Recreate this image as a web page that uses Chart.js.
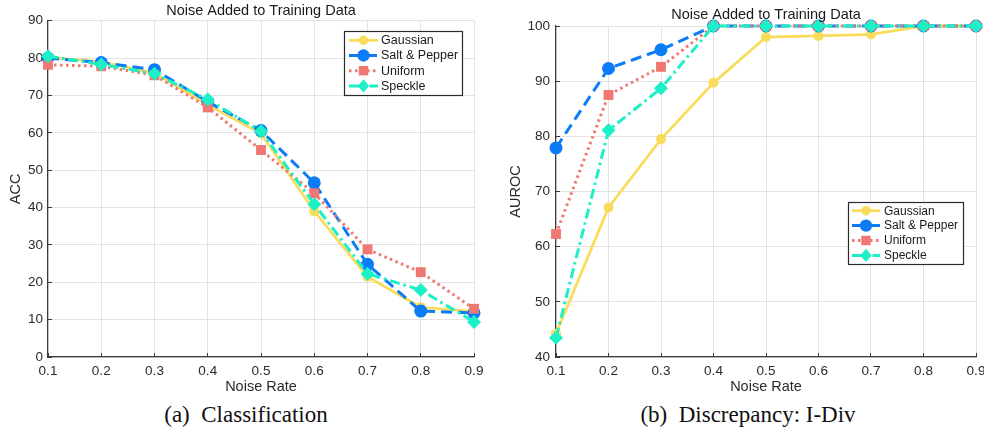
<!DOCTYPE html>
<html>
<head>
<meta charset="utf-8">
<title>Noise Added to Training Data</title>
<script src="https://cdn.jsdelivr.net/npm/chart.js@4.4.1/dist/chart.umd.min.js"></script>
<style>
  body { margin: 0; background: #fff; }
  #wrap { position: relative; width: 984px; height: 431px; overflow: hidden; }
  .panel { position: absolute; top: 0; height: 400px; }
  .cap { position: absolute; top: 402px; font-family: "Liberation Serif", "Times New Roman", serif;
         font-size: 23px; color: #111; white-space: pre; transform: translateX(-50%); }
</style>
</head>
<body>
<div id="wrap">
  <div class="panel" style="left:0;width:490px"><canvas id="accChart"></canvas></div>
  <div class="panel" style="left:490px;width:494px"><canvas id="aurocChart"></canvas></div>
  <div class="cap" style="left:246px">(a)  Classification</div>
  <div class="cap" style="left:748px">(b)  Discrepancy: I-Div</div>
</div>
<script>
// data
const noiseRates = [0.1, 0.2, 0.3, 0.4, 0.5, 0.6, 0.7, 0.8, 0.9];
const seriesNames = ['Gaussian', 'Salt & Pepper', 'Uniform', 'Speckle'];

const accGaussian   = [80.2, 79.0, 76.0, 67.5, 59.8, 39.0, 21.5, 13.3, 12.2];
const accSaltPepper = [80.0, 78.8, 76.9, 68.3, 60.6, 46.6, 24.8, 12.3, 11.8];
const accUniform    = [78.2, 77.8, 75.4, 66.8, 55.4, 43.8, 28.8, 22.7, 12.9];
const accSpeckle    = [80.5, 78.3, 75.8, 68.9, 60.4, 40.9, 22.3, 17.9, 9.4];

const aurocGaussian   = [44.2, 67.1, 79.5, 89.7, 98.0, 98.2, 98.5, 100, 100];
const aurocSaltPepper = [77.9, 92.3, 95.7, 100, 100, 100, 100, 100, 100];
const aurocUniform    = [62.3, 87.5, 92.6, 100, 100, 100, 100, 100, 100];
const aurocSpeckle    = [43.5, 81.1, 88.7, 100, 100, 100, 100, 100, 100];

const xTicks = [0.1, 0.2, 0.3, 0.4, 0.5, 0.6, 0.7, 0.8, 0.9];
const accTicks = [0, 10, 20, 30, 40, 50, 60, 70, 80, 90];
const aurocTicks = [40, 50, 60, 70, 80, 90, 100];

const FONT = '"Liberation Sans", Arial, Helvetica, sans-serif';

const styles = [
  { color: '#F9DC5C', dash: [], width: 2.8, point: 'circle', r: 5 },
  { color: '#0B7CF5', dash: [11, 6], width: 3, point: 'circle', r: 6.5 },
  { color: '#F07872', dash: [2.5, 3.5], width: 3, point: 'rect', r: 7 },
  { color: '#1CF0C6', dash: [10, 4, 2.5, 4], width: 3, point: 'rectRot', r: 7 }
];

function marker(ctx, kind, x, y, r) {
  ctx.beginPath();
  if (kind === 'circle') {
    ctx.arc(x, y, r, 0, Math.PI * 2);
  } else if (kind === 'rect') {
    const s = r * Math.SQRT1_2;
    ctx.rect(x - s, y - s, 2 * s, 2 * s);
  } else {
    ctx.moveTo(x, y - r); ctx.lineTo(x + r * 0.85, y); ctx.lineTo(x, y + r); ctx.lineTo(x - r * 0.85, y);
    ctx.closePath();
  }
  ctx.fill();
}

// legend box + title drawn at fixed spots
const boxLegend = {
  id: 'boxLegend',
  afterDatasetsDraw(chart, args, o) {
    const ctx = chart.ctx;
    ctx.save();
    ctx.fillStyle = '#fff';
    ctx.fillRect(o.x, o.y, o.w, o.h);
    ctx.strokeStyle = '#2b2b2b';
    ctx.lineWidth = 1.2;
    ctx.strokeRect(o.x + 0.5, o.y + 0.5, o.w, o.h);
    chart.data.datasets.forEach((ds, i) => {
      const st = styles[i];
      const cy = o.y + o.first + i * o.step;
      ctx.strokeStyle = st.color;
      ctx.lineWidth = st.width;
      ctx.setLineDash(st.dash);
      ctx.beginPath();
      ctx.moveTo(o.x + o.l0, cy);
      ctx.lineTo(o.x + o.l1, cy);
      ctx.stroke();
      ctx.setLineDash([]);
      ctx.fillStyle = st.color;
      marker(ctx, st.point, o.x + (o.l0 + o.l1) / 2, cy, st.r * 0.95);
      ctx.fillStyle = '#1a1a1a';
      ctx.font = o.fontSize + 'px ' + FONT;
      ctx.textBaseline = 'middle';
      ctx.textAlign = 'left';
      ctx.fillText(ds.label, o.x + o.tx, cy + 0.5);
    });
    ctx.restore();
  },
  afterDraw(chart, args, o) {
    const ctx = chart.ctx, a = chart.chartArea;
    ctx.save();
    ctx.fillStyle = '#1a1a1a';
    ctx.font = '14.5px ' + FONT;
    ctx.textAlign = 'center';
    ctx.textBaseline = 'middle';
    ctx.fillText(o.title, (a.left + a.right) / 2, o.titleY);
    ctx.restore();
  }
};

function makeChart(id, series, yTicks, yLabel, geo, legend) {
  const datasets = series.map((vals, i) => ({
    label: seriesNames[i],
    data: noiseRates.map((x, k) => ({ x: x, y: vals[k] })),
    borderColor: styles[i].color,
    backgroundColor: styles[i].color,
    borderWidth: styles[i].width,
    borderDash: styles[i].dash,
    pointStyle: styles[i].point,
    pointRadius: styles[i].r,
    pointBackgroundColor: styles[i].color,
    pointBorderWidth: 0,
    tension: 0,
    clip: false,
    order: 4 - i
  }));
  return new Chart(document.getElementById(id), {
    type: 'line',
    data: { datasets },
    options: {
      responsive: true,
      maintainAspectRatio: false,
      animation: false,
      layout: { padding: { top: geo.top, right: geo.right, left: 0, bottom: 0 } },
      plugins: {
        legend: { display: false },
        tooltip: { enabled: false },
        boxLegend: legend
      },
      scales: {
        x: {
          type: 'linear',
          min: xTicks[0],
          max: xTicks[xTicks.length - 1],
          afterBuildTicks: s => { s.ticks = xTicks.map(v => ({ value: v })); },
          afterFit: s => { s.height = 43; s.paddingLeft = 0; s.paddingRight = 0; },
          // inward tick marks like the original
          grid: { color: '#e2e2e2', lineWidth: 1, drawTicks: true, tickLength: -4, tickColor: '#3a3a3a' },
          border: { color: '#3a3a3a', width: 1.2 },
          ticks: { padding: 10, color: '#2a2a2a', font: { family: FONT, size: 13.5 },
                   callback: v => v.toFixed(1), maxRotation: 0 },
          title: { display: true, text: 'Noise Rate', color: '#2a2a2a',
                   font: { family: FONT, size: 14.5 }, padding: { top: 0, bottom: 4 } }
        },
        y: {
          min: yTicks[0],
          max: yTicks[yTicks.length - 1],
          afterBuildTicks: s => { s.ticks = yTicks.map(v => ({ value: v })); },
          afterFit: s => { s.width = geo.yw; s.paddingTop = 0; s.paddingBottom = 0; },
          grid: { color: '#e2e2e2', lineWidth: 1, drawTicks: true, tickLength: -4, tickColor: '#3a3a3a' },
          border: { color: '#3a3a3a', width: 1.2 },
          ticks: { padding: geo.tp + 4, color: '#2a2a2a', font: { family: FONT, size: 13.5 } },
          title: { display: true, text: yLabel, color: '#2a2a2a',
                   font: { family: FONT, size: 14.5 }, padding: { top: geo.ytp, bottom: 0 } }
        }
      }
    },
    plugins: [boxLegend]
  });
}

makeChart('accChart', [accGaussian, accSaltPepper, accUniform, accSpeckle], accTicks, 'ACC',
  { top: 20.7, right: 16, yw: 48, tp: 5, ytp: 7 },
  { x: 344, y: 31, w: 118, h: 64, first: 9.3, step: 15.2, l0: 5, l1: 34, tx: 37, fontSize: 12.5,
    title: 'Noise Added to Training Data', titleY: 10.5 });

makeChart('aurocChart', [aurocGaussian, aurocSaltPepper, aurocUniform, aurocSpeckle], aurocTicks, 'AUROC',
  { top: 26, right: 8, yw: 66, tp: 6, ytp: 17 },
  { x: 358, y: 202, w: 115, h: 62, first: 8.7, step: 14.9, l0: 4, l1: 32, tx: 36, fontSize: 12,
    title: 'Noise Added to Training Data', titleY: 15 });
</script>
</body>
</html>
